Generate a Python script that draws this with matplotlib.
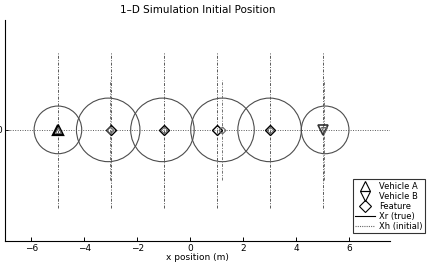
import matplotlib.pyplot as plt
from matplotlib.lines import Line2D
from matplotlib.patches import Circle

# true positions
vehicle_a = -5.0
vehicle_b = 5.0
features = [-3.0, -1.0, 1.0, 3.0]

# initial estimates (slightly off the truth)
vehicle_a_est = -5.0
vehicle_b_est = 5.05
features_est = [-3.05, -1.0, 1.2, 3.0]

# uncertainty circle radii for [A, features..., B]
circle_centers = [-5.0, -3.1, -1.05, 1.22, 3.0, 5.1]
circle_radii = [0.9, 1.2, 1.2, 1.2, 1.2, 0.9]

# vertical bars: long at true positions, short at shifted estimates
long_bar_x = [-5.0, -3.0, -1.0, 1.0, 3.0, 5.0]
long_bar_half = 2.95
short_bar_x = [-3.05, 1.2, 5.05]
short_bar_half = 1.9

xticks = [-6, -4, -2, 0, 2, 4, 6]
yticks = [0]

fig = plt.figure(figsize=(4.35, 2.7), dpi=100)
ax = fig.add_axes([0.0115, 0.107, 0.885, 0.819])

ax.plot([-7, 7.55], [0, 0], color='0.35', ls=(0, (1, 1.5)), lw=0.7)

for x in long_bar_x:
    ax.plot([x, x], [-long_bar_half, long_bar_half], color='0.35',
            ls=(0, (3, 1.5, 1, 1.5)), lw=0.7)
for x in short_bar_x:
    ax.plot([x, x], [-short_bar_half, short_bar_half], color='0.45',
            ls=(0, (3, 1.5, 1, 1.5)), lw=0.7)

for cx, r in zip(circle_centers, circle_radii):
    ax.add_patch(Circle((cx, 0), r, fill=False, ec='0.3', lw=0.8))

ax.plot(vehicle_a, 0, marker='^', ms=7.5, mfc='none', mec='black', mew=1.6, ls='none')
ax.plot(vehicle_a_est, 0, marker='^', ms=4, mfc='none', mec='0.4', mew=0.8, ls='none')
ax.plot(vehicle_b, 0, marker='v', ms=7.5, mfc='none', mec='0.2', mew=1.2, ls='none')
ax.plot(vehicle_b_est, 0, marker='v', ms=5, mfc='none', mec='0.4', mew=0.8, ls='none')
ax.plot(features, [0] * len(features), marker='D', ms=5.5, mfc='none', mec='black', mew=1.0, ls='none')
ax.plot(features_est, [0] * len(features_est), marker='D', ms=3.5, mfc='none', mec='0.4', mew=0.8, ls='none')

ax.set_xlim(-7, 7.55)
ax.set_ylim(-4.2, 4.15)
ax.set_xticks(xticks)
ax.set_yticks(yticks)
ax.tick_params(direction='in', length=3, width=0.7, labelsize=6.5, pad=2)
for s in ['top', 'right']:
    ax.spines[s].set_visible(False)
for s in ['left', 'bottom']:
    ax.spines[s].set_linewidth(0.8)

ax.set_xlabel('x position (m)', fontsize=6.5, labelpad=0)
ax.set_title('1\u2013D Simulation Initial Position', fontsize=7.5, pad=5)

handles = [
    Line2D([], [], marker='^', ms=7, mfc='none', mec='black', mew=0.8, ls='none'),
    Line2D([], [], marker='v', ms=7, mfc='none', mec='black', mew=0.8, ls='none'),
    Line2D([], [], marker='D', ms=6, mfc='none', mec='black', mew=0.8, ls='none'),
    Line2D([], [], color='black', lw=0.8),
    Line2D([], [], color='0.4', lw=0.8, ls=(0, (1, 1))),
]
labels = ['Vehicle A', 'Vehicle B', 'Feature', 'Xr (true)', 'Xh (initial)']
fig.legend(handles, labels, loc='lower right', bbox_to_anchor=(0.978, 0.137),
           fontsize=6, frameon=True, fancybox=False, edgecolor='black',
           handlelength=2.4, handletextpad=0.5, labelspacing=0.12,
           borderpad=0.3, borderaxespad=0).get_frame().set_linewidth(0.8)

fig.savefig('out.png', dpi=100)
